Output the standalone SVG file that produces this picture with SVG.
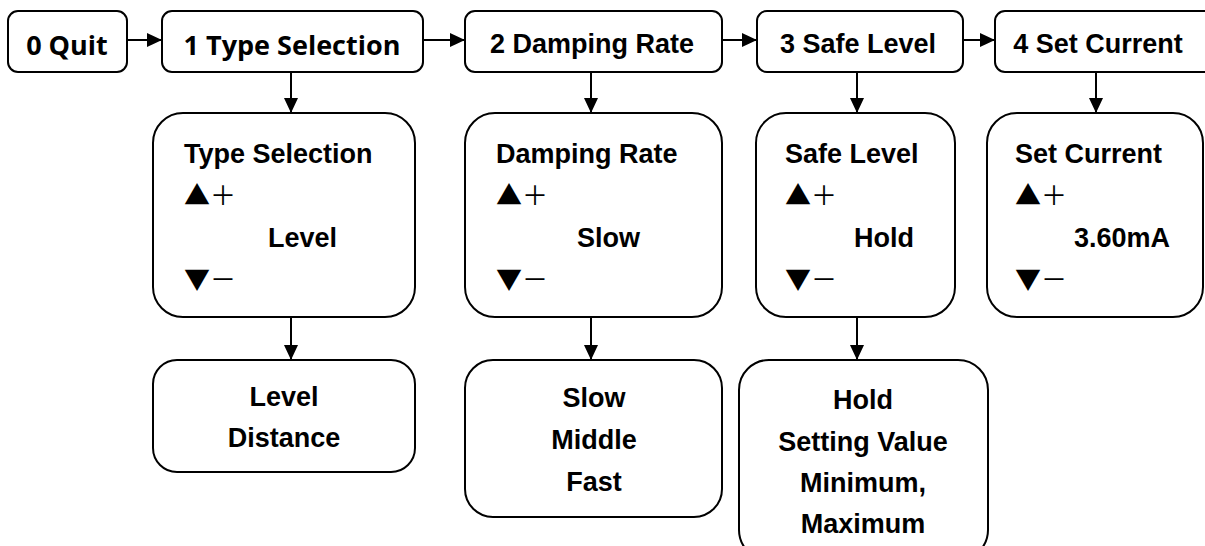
<svg xmlns="http://www.w3.org/2000/svg" width="1205" height="546" viewBox="0 0 1205 546">
<defs>
<marker id="ah" viewBox="0 0 15 14" refX="15" refY="7" markerWidth="15" markerHeight="14" markerUnits="userSpaceOnUse" orient="auto">
<path d="M0,0 L15,7 L0,14 Z" fill="#000"/>
</marker>
<style>
.box{fill:#fff;stroke:#000;stroke-width:2}
.con{stroke:#000;stroke-width:2;fill:none;marker-end:url(#ah)}
.top{font-family:"Open Sans","Noto Sans",sans-serif;font-weight:bold;font-size:27px;text-anchor:middle;fill:#000}
.t{font-family:"Liberation Sans",Arial,sans-serif;font-weight:bold;font-size:27px;fill:#000}
.c{text-anchor:middle}
.sym{font-family:"Noto Sans CJK SC",sans-serif;font-size:26px;fill:#000}
</style>
</defs>
<g id="connectors">
<line class="con" x1="127" y1="40" x2="162" y2="40"/>
<line class="con" x1="423" y1="40" x2="465" y2="40"/>
<line class="con" x1="722" y1="40" x2="757" y2="40"/>
<line class="con" x1="963" y1="40" x2="995" y2="40"/>
<line class="con" x1="291" y1="72" x2="291" y2="113"/>
<line class="con" x1="591" y1="72" x2="591" y2="113"/>
<line class="con" x1="857" y1="72" x2="857" y2="113"/>
<line class="con" x1="1096" y1="72" x2="1096" y2="113"/>
<line class="con" x1="291" y1="317" x2="291" y2="360"/>
<line class="con" x1="591" y1="317" x2="591" y2="360"/>
<line class="con" x1="857" y1="317" x2="857" y2="360"/>
</g>
<g id="n0">
<rect class="box" x="8" y="11" width="119" height="61" rx="10"/>
<text class="top" x="67" y="55" font-size="23.5">0 Quit</text>
</g>
<g id="n1">
<rect class="box" x="162" y="11" width="261" height="61" rx="10"/>
<text class="top" x="292" y="55">1 Type Selection</text>
</g>
<g id="n2">
<rect class="box" x="465" y="11" width="257" height="61" rx="10"/>
<text class="t c" x="592" y="53">2 Damping Rate</text>
</g>
<g id="n3">
<rect class="box" x="757" y="11" width="206" height="61" rx="10"/>
<text class="t c" x="858" y="53">3 Safe Level</text>
</g>
<g id="n4">
<rect class="box" x="995" y="11" width="230" height="61" rx="10"/>
<text class="t c" x="1098" y="53">4 Set Current</text>
</g>
<g id="m1">
<rect class="box" x="153" y="113" width="262" height="204" rx="30"/>
<text class="t" x="184" y="163">Type Selection</text>
<text class="sym" x="184" y="205">▲＋</text>
<text class="t" x="268" y="247">Level</text>
<text class="sym" x="184" y="289">▼－</text>
</g>
<g id="m2">
<rect class="box" x="465" y="113" width="257" height="204" rx="30"/>
<text class="t" x="496" y="163">Damping Rate</text>
<text class="sym" x="496" y="205">▲＋</text>
<text class="t" x="577" y="247">Slow</text>
<text class="sym" x="496" y="289">▼－</text>
</g>
<g id="m3">
<rect class="box" x="756" y="113" width="199" height="204" rx="30"/>
<text class="t" x="785" y="163">Safe Level</text>
<text class="sym" x="785" y="205">▲＋</text>
<text class="t" x="854" y="247">Hold</text>
<text class="sym" x="785" y="289">▼－</text>
</g>
<g id="m4">
<rect class="box" x="987" y="113" width="216" height="204" rx="30"/>
<text class="t" x="1015" y="163">Set Current</text>
<text class="sym" x="1015" y="205">▲＋</text>
<text class="t" x="1074" y="247">3.60mA</text>
<text class="sym" x="1015" y="289">▼－</text>
</g>
<g id="b1">
<rect class="box" x="153" y="360" width="262" height="112" rx="24"/>
<text class="t c" x="284" y="406">Level</text>
<text class="t c" x="284" y="447">Distance</text>
</g>
<g id="b2">
<rect class="box" x="465" y="360" width="257" height="157" rx="28"/>
<text class="t c" x="594" y="407">Slow</text>
<text class="t c" x="594" y="449">Middle</text>
<text class="t c" x="594" y="491">Fast</text>
</g>
<g id="b3">
<rect class="box" x="739" y="360" width="249" height="200" rx="30"/>
<text class="t c" x="863" y="409">Hold</text>
<text class="t c" x="863" y="451">Setting Value</text>
<text class="t c" x="863" y="492">Minimum,</text>
<text class="t c" x="863" y="533">Maximum</text>
</g>
</svg>
